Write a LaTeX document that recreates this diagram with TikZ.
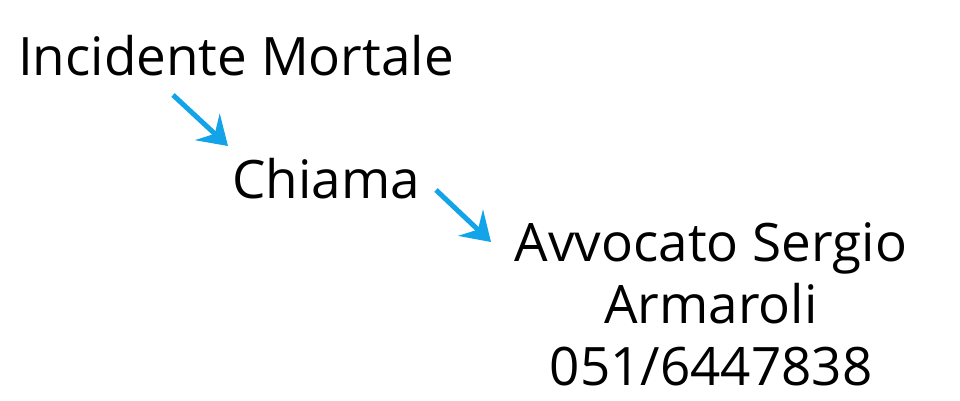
\documentclass[tikz,border=0pt]{standalone}
\usepackage{fontspec}
\setmainfont{Open Sans}
\usepackage{tikz}
\usetikzlibrary{positioning, arrows.meta}
\definecolor{arrowblue}{RGB}{18,163,232}
\tikzset{
	label text/.style={inner sep=0pt, anchor=base west, font=\fontsize{53}{62}\selectfont},
	step arrow/.style={draw=arrowblue, line width=5pt, -{Stealth[length=28pt,width=36pt,inset=10pt]}}
}

\begin{document}
\begin{tikzpicture}[x=1pt, y=-1pt]
			\useasboundingbox (0,0) rectangle (960,400);
			\node[label text] (accident) at (18,75) {Incidente Mortale};
			\node[label text] (call) at (232,198) {Chiama};
			\node[label text, anchor=base, align=center] (lawyer) at (711,385) {Avvocato Sergio\\Armaroli\\051/6447838};
			\coordinate (a1) at (173,95);
			\coordinate (c1) at (228,146);
			\coordinate (a2) at (436,190);
			\coordinate (c2) at (491,242);
			\draw[step arrow] (a1) -- (c1);
			\draw[step arrow] (a2) -- (c2);
		\end{tikzpicture}
\end{document}
